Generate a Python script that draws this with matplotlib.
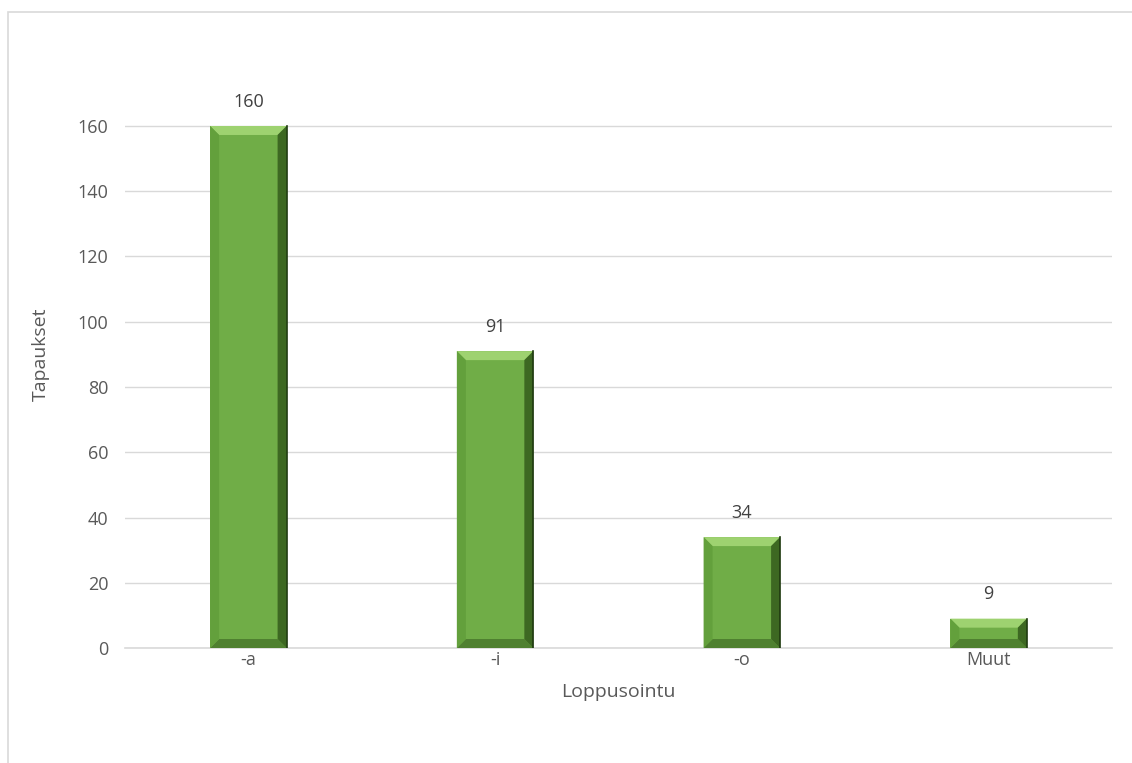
import matplotlib.pyplot as plt
from matplotlib.patches import Polygon, Rectangle

plt.rcParams['font.family'] = ['Open Sans', 'DejaVu Sans']

categories = ['-a', '-i', '-o', 'Muut']
values = [160, 91, 34, 9]

fig = plt.figure(figsize=(11.32, 7.63), dpi=100)
ax = fig.add_axes([0.1104, 0.1507, 0.8719, 0.7697])

ymax = 180
ax.set_xlim(-0.5, len(categories) - 0.5)
ax.set_ylim(0, ymax)

# pixel -> data scales for bevel size
px_x = (len(categories)) / (0.8719 * 1132)
px_y = ymax / (0.7697 * 763)
bev = 9

width = 0.31
face = '#70AD47'
for i, v in enumerate(values):
    x0, x1 = i - width / 2, i + width / 2
    bx = bev * px_x
    by = min(bev * px_y, v / 2.2)
    ax.add_patch(Rectangle((x0, 0), width, v, facecolor=face, edgecolor='none', zorder=3))
    # top bevel (light)
    ax.add_patch(Polygon([(x0, v), (x1, v), (x1 - bx, v - by), (x0 + bx, v - by)],
                         facecolor='#9ED270', edgecolor='none', zorder=4))
    # bottom bevel (dark)
    ax.add_patch(Polygon([(x0, 0), (x1, 0), (x1 - bx, by), (x0 + bx, by)],
                         facecolor='#4F8030', edgecolor='none', zorder=4))
    # left bevel
    ax.add_patch(Polygon([(x0, 0), (x0 + bx, by), (x0 + bx, v - by), (x0, v)],
                         facecolor='#63A03C', edgecolor='none', zorder=4))
    # right bevel (darkest)
    ax.add_patch(Polygon([(x1, 0), (x1 - bx, by), (x1 - bx, v - by), (x1, v)],
                         facecolor='#3D6822', edgecolor='none', zorder=4))
    ax.plot([x1, x1], [0, v], color='#1F3A10', lw=1.2, zorder=5)
    ax.text(i, v + 7.5, str(v), ha='center', va='center', fontsize=13, color='#404040')

ax.set_yticks(range(0, 161, 20))
ax.set_xticks(range(len(categories)))
ax.set_xticklabels(categories)
ax.tick_params(length=0, labelsize=13, colors='#595959')
ax.tick_params(axis='y', pad=12)
ax.tick_params(axis='x', pad=2)
ax.grid(axis='y', color='#D9D9D9', lw=1, zorder=0)
ax.set_axisbelow(True)
for s in ['top', 'right', 'left']:
    ax.spines[s].set_visible(False)
ax.spines['bottom'].set_color('#D9D9D9')
ax.spines['bottom'].set_linewidth(1.2)

ax.set_ylabel('Tapaukset', fontsize=14, color='#595959', labelpad=20)
ax.set_xlabel('Loppusointu', fontsize=14, color='#595959', labelpad=10)

# chart area border
fig.patches.append(Rectangle((8 / 1132, -0.05), 1.1, 1 - 12 / 763 + 0.05,
                             transform=fig.transFigure, fill=False,
                             edgecolor='#D9D9D9', lw=1.2))

fig.savefig('out.png', dpi=100)
